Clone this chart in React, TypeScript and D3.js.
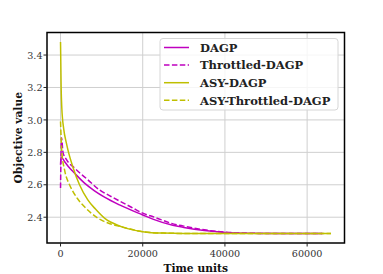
import React from "react";
import * as d3 from "d3";

const W = 383;
const H = 274;
const MARGIN = { top: 32.5, right: 38.5, bottom: 31, left: 47 };

// DAGP (solid magenta)
const dagpT = [0, 120, 970, 2000, 3400, 5840, 8270, 10700, 14350, 20000, 22460, 27300, 30000, 35000, 40000, 45000, 55000, 63700];
const dagpV = [2.724, 2.771, 2.744, 2.71, 2.672, 2.61, 2.563, 2.524, 2.476, 2.414, 2.388, 2.35, 2.337, 2.318, 2.306, 2.301, 2.30, 2.30];

// Throttled-DAGP (dashed magenta)
const thrT = [0, 250, 600, 1380, 3400, 6640, 9490, 12000, 14350, 17500, 20000, 22870, 27000, 30000, 35000, 40000, 45000, 50000, 63700];
const thrV = [2.58, 2.89, 2.80, 2.758, 2.703, 2.631, 2.568, 2.532, 2.50, 2.458, 2.425, 2.40, 2.362, 2.345, 2.322, 2.308, 2.302, 2.30, 2.30];

// ASY-DAGP (solid yellow)
const asyT = [0, 150, 300, 800, 1400, 1950, 3000, 4620, 6640, 8500, 10700, 14770, 20000, 25000, 30000, 65800];
const asyV = [3.48, 3.2, 3.08, 2.94, 2.86, 2.80, 2.71, 2.60, 2.507, 2.45, 2.394, 2.342, 2.311, 2.302, 2.30, 2.30];

// ASY-Throttled-DAGP (dashed yellow)
const asyThrT = [0, 320, 970, 2190, 3000, 4200, 5840, 7470, 9080, 10300, 12000, 15000, 20000, 25000, 30000, 65800];
const asyThrV = [2.99, 2.80, 2.693, 2.60, 2.56, 2.512, 2.464, 2.425, 2.394, 2.377, 2.36, 2.34, 2.311, 2.302, 2.30, 2.30];

const xTicks = [0, 20000, 40000, 60000];
const yTicks = [2.4, 2.6, 2.8, 3.0, 3.2, 3.4];

const MAGENTA = "#bf00bf";
const YELLOW = "#bfbf00";

const series = [
  { name: "DAGP", t: dagpT, v: dagpV, color: MAGENTA, dash: "" },
  { name: "Throttled-DAGP", t: thrT, v: thrV, color: MAGENTA, dash: "5.5,2.4" },
  { name: "ASY-DAGP", t: asyT, v: asyV, color: YELLOW, dash: "" },
  { name: "ASY-Throttled-DAGP", t: asyThrT, v: asyThrV, color: YELLOW, dash: "5.5,2.4" },
];

const serif = "DejaVu Serif";

export default function App() {
  const x0 = MARGIN.left;
  const x1 = W - MARGIN.right;
  const y0 = MARGIN.top;
  const y1 = H - MARGIN.bottom;

  const xScale = d3.scaleLinear().domain([-3290, 69090]).range([x0, x1]);
  const yScale = d3.scaleLinear().domain([2.241, 3.539]).range([y1, y0]);

  const line = d3
    .line<[number, number]>()
    .x((d) => xScale(d[0]))
    .y((d) => yScale(d[1]))
    .curve(d3.curveMonotoneX);

  return (
    <svg
      width={W}
      height={H}
      style={{ position: "absolute", left: 0, top: 0, background: "#fff" }}
    >
      <defs>
        <clipPath id="plot">
          <rect x={x0} y={y0} width={x1 - x0} height={y1 - y0} />
        </clipPath>
      </defs>
      {/* grid */}
      <g stroke="#cfcfcf" strokeWidth={1}>
        {xTicks.map((t) => (
          <line key={"gx" + t} x1={xScale(t)} x2={xScale(t)} y1={y0} y2={y1} />
        ))}
        {yTicks.map((t) => (
          <line key={"gy" + t} x1={x0} x2={x1} y1={yScale(t)} y2={yScale(t)} />
        ))}
      </g>

      <g clipPath="url(#plot)" fill="none">
        {series.map((s) => (
          <path
            key={s.name}
            d={line(s.t.map((t, i) => [t, s.v[i]] as [number, number])) || ""}
            stroke={s.color}
            strokeWidth={1.5}
            strokeDasharray={s.dash || undefined}
          />
        ))}
      </g>

      {/* frame */}
      <rect x={x0} y={y0} width={x1 - x0} height={y1 - y0} fill="none" stroke="#000" strokeWidth={1.5} />

      {/* ticks */}
      <g stroke="#222" strokeWidth={1}>
        {xTicks.map((t) => (
          <line key={"tx" + t} x1={xScale(t)} x2={xScale(t)} y1={y1} y2={y1 + 3.5} />
        ))}
        {yTicks.map((t) => (
          <line key={"ty" + t} x1={x0 - 3.5} x2={x0} y1={yScale(t)} y2={yScale(t)} />
        ))}
      </g>
      <g style={{ fontFamily: serif }} fontSize={9.6} fill="#333">
        {xTicks.map((t) => (
          <text key={"lx" + t} x={xScale(t)} y={257.2} textAnchor="middle">
            {t}
          </text>
        ))}
        {yTicks.map((t) => (
          <text key={"ly" + t} x={42.5} y={yScale(t) + 3.6} textAnchor="end">
            {t.toFixed(1)}
          </text>
        ))}
      </g>

      {/* axis labels */}
      <text x={(x0 + x1) / 2} y={271.5} textAnchor="middle" style={{ fontFamily: serif }} fontWeight="bold" fontSize={10.7} fill="#111">
        Time units
      </text>
      <text
        transform={`translate(22, ${(y0 + y1) / 2}) rotate(-90)`}
        textAnchor="middle"
        style={{ fontFamily: serif }}
        fontWeight="bold"
        fontSize={10.7}
        fill="#111"
      >
        Objective value
      </text>

      {/* legend */}
      <g>
        <rect x={160} y={38.5} width={178} height={71.5} rx={3} fill="#fff" fillOpacity={0.8} stroke="#d6d6d6" strokeWidth={1} />
        {series.map((s, i) => {
          const yy = 47.5 + i * 17.6;
          return (
            <g key={"lg" + s.name}>
              <line x1={164} x2={189} y1={yy} y2={yy} stroke={s.color} strokeWidth={1.5} strokeDasharray={s.dash || undefined} />
              <text x={200} y={yy + 4.2} style={{ fontFamily: serif }} fontWeight="bold" fontSize={11.5} fill="#222">
                {s.name}
              </text>
            </g>
          );
        })}
      </g>
    </svg>
  );
}
